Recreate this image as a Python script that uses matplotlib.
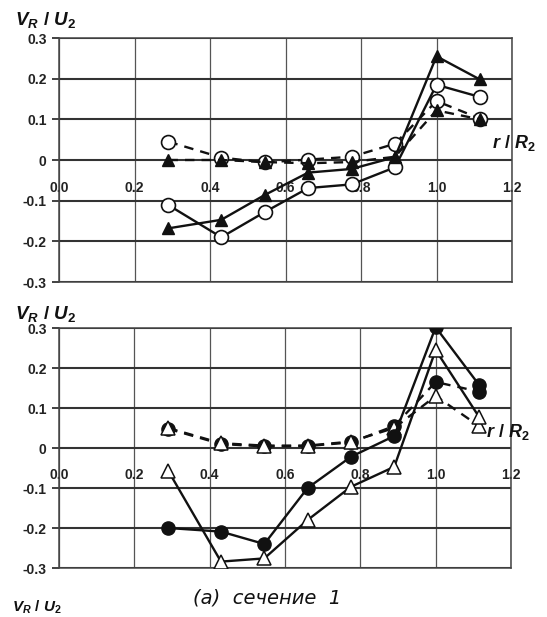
import matplotlib
matplotlib.use("Agg")
import matplotlib.pyplot as plt

plt.rcParams['font.family'] = ['Liberation Sans', 'DejaVu Sans']
plt.rcParams['mathtext.fontset'] = 'custom'
plt.rcParams['mathtext.it'] = 'Liberation Sans:italic:bold'
plt.rcParams['mathtext.rm'] = 'Liberation Sans:bold'
plt.rcParams['mathtext.bf'] = 'Liberation Sans:bold'

# ---- data ----
r_pos = [0.29, 0.43, 0.545, 0.66, 0.775, 0.89, 1.0, 1.115]

# top panel
top_tri_solid = [-0.168, -0.147, -0.086, -0.031, -0.022, 0.007, 0.255, 0.198]
top_tri_dash = [0.0, 0.0, -0.005, -0.008, -0.005, 0.008, 0.122, 0.100]
top_circ_solid = [-0.111, -0.190, -0.128, -0.069, -0.060, -0.018, 0.185, 0.155]
top_circ_dash = [0.045, 0.006, -0.006, 0.001, 0.008, 0.040, 0.145, 0.102]

# bottom panel
bot_circ_solid = [-0.200, -0.209, -0.240, -0.100, -0.022, 0.030, 0.302, 0.158]
bot_circ_dash = [0.048, 0.010, 0.004, 0.005, 0.014, 0.055, 0.165, 0.141]
bot_tri_solid = [-0.057, -0.284, -0.276, -0.180, -0.097, -0.047, 0.245, 0.078]
bot_tri_dash = [0.050, 0.012, 0.006, 0.006, 0.016, 0.050, 0.130, 0.055]

y_ticks = [-0.3, -0.2, -0.1, 0.0, 0.1, 0.2, 0.3]
x_ticks = [0.0, 0.2, 0.4, 0.6, 0.8, 1.0, 1.2]
x_tick_labels = ["0.0", "0.2", "0.4", "0.6", "0.8", "1.0", "1.2"]
y_tick_labels = ["-0.3", "-0.2", "-0.1", "0", "0.1", "0.2", "0.3"]

ylabel = r"$V_R\ /\ U_2$"
xlabel = r"$r\ /\ R_2$"
caption = "(a)  сечение  1"

W, H = 547, 617
fig = plt.figure(figsize=(W / 100, H / 100), dpi=100)

ax1 = fig.add_axes([59 / W, 1 - 282 / H, (512 - 59) / W, (282 - 38) / H])
ax2 = fig.add_axes([59 / W, 1 - 568 / H, (511 - 59) / W, (568 - 328) / H])

dash = (0, (4, 3))
black = '#111111'


def style(ax):
    ax.set_xlim(0, 1.2)
    ax.set_ylim(-0.3, 0.3)
    ax.set_yticks(y_ticks)
    ax.set_yticklabels(y_tick_labels, fontsize=10, fontweight='bold', color='#222222')
    ax.set_xticks(x_ticks)
    ax.set_xticklabels([])
    ax.tick_params(axis='x', length=0)
    ax.tick_params(axis='y', length=5, width=1.3, color='#333333', pad=4)
    ax.yaxis.grid(True, color='#333333', lw=1.5)
    ax.xaxis.grid(True, color='#555555', lw=0.9)
    ax.set_axisbelow(True)
    for s in ax.spines.values():
        s.set_color('#444444')
        s.set_linewidth(1.1)
    for xv, lab in zip(x_ticks, x_tick_labels):
        ax.text(xv, -0.068, lab, ha='center', va='center', fontsize=10,
                fontweight='bold', color='#222222', zorder=1)


style(ax1)
style(ax2)

kw = dict(color=black, lw=1.7, zorder=3)
# top panel
ax1.plot(r_pos, top_circ_dash, ls=dash, marker='o', ms=10, mfc='white', mec=black, mew=1.2, **kw)
ax1.plot(r_pos, top_tri_dash, ls=dash, marker='^', ms=9, mfc=black, mec=black, **kw)
ax1.plot(r_pos, top_circ_solid, ls='-', marker='o', ms=10, mfc='white', mec=black, mew=1.2, **kw)
ax1.plot(r_pos, top_tri_solid, ls='-', marker='^', ms=9, mfc=black, mec=black, **kw)

# bottom panel
ax2.plot(r_pos, bot_circ_dash, ls=dash, marker='o', ms=9.5, mfc=black, mec=black, **kw)
ax2.plot(r_pos, bot_tri_dash, ls=dash, marker='^', ms=10, mfc='white', mec=black, mew=1.1, **kw)
ax2.plot(r_pos, bot_circ_solid, ls='-', marker='o', ms=9.5, mfc=black, mec=black, **kw)
ax2.plot(r_pos, bot_tri_solid, ls='-', marker='^', ms=10, mfc='white', mec=black, mew=1.1, **kw)

# axis labels
fig.text(15 / W, 1 - 20 / H, ylabel, fontsize=13.5, ha='left', va='center', color='#111111')
fig.text(15 / W, 1 - 314 / H, ylabel, fontsize=13.5, ha='left', va='center', color='#111111')
ax1.text(1.147, 0.043, xlabel, fontsize=13, ha='left', va='center', clip_on=False, color='#111111')
ax2.text(1.134, 0.040, xlabel, fontsize=13, ha='left', va='center', clip_on=False, color='#111111')

fig.text(267 / W, 1 - 598 / H, caption, fontsize=14, style='italic', ha='center', va='center',
         family=['DejaVu Sans'], color='#111111')
fig.text(12 / W, 1 - 616 / H, ylabel, fontsize=11, ha='left', va='bottom', color='#111111')

fig.savefig("out.png", dpi=100)
